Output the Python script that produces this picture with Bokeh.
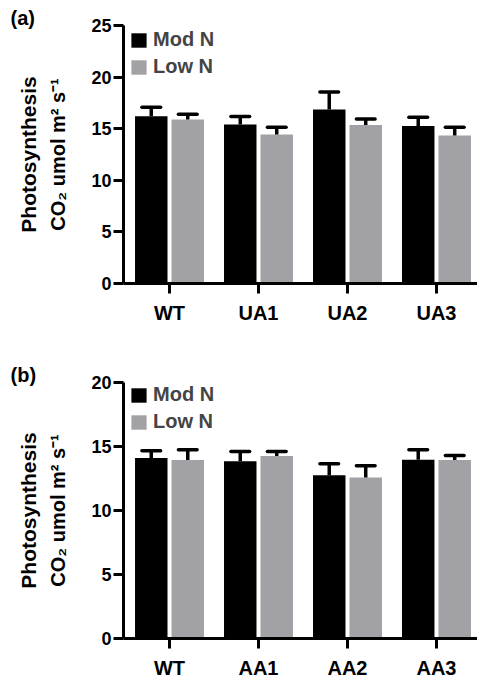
import numpy as np
from bokeh.plotting import figure
from bokeh.models import (ColumnDataSource, Range1d, FixedTicker, Legend, LegendItem,
                          LinearAxis)
from bokeh.layouts import column
from bokeh.transform import dodge
from bokeh.embed import file_html
from bokeh.resources import INLINE

# ---- data ----
categories_a = ["WT", "UA1", "UA2", "UA3"]
mod_a = [16.2, 15.4, 16.85, 15.25]
mod_a_err = [0.88, 0.78, 1.7, 0.87]
low_a = [15.9, 14.45, 15.35, 14.35]
low_a_err = [0.5, 0.7, 0.6, 0.78]

categories_b = ["WT", "AA1", "AA2", "AA3"]
mod_b = [14.1, 13.85, 12.75, 13.97]
mod_b_err = [0.57, 0.75, 0.9, 0.78]
low_b = [13.95, 14.26, 12.58, 13.95]
low_b_err = [0.8, 0.34, 0.92, 0.35]

yticks_a = [0, 5, 10, 15, 20, 25]
yticks_b = [0, 5, 10, 15, 20]
series_names = ["Mod N", "Low N"]
y_title_1 = "Photosynthesis"
y_title_2 = "CO\u2082 umol m\u00b2 s\u207b\u00b9"

FONT = "Liberation Sans"
BLACK = "#000000"
GRAY = "#a2a2a6"


def make_panel(tag, cats, mod, mod_err, low, low_err, yticks, height,
               border_top, border_bottom, title_standoff):
    n = len(cats)
    idx = list(range(n))
    src = ColumnDataSource(dict(
        x=idx,
        mod=mod, mod_hi=[m + e for m, e in zip(mod, mod_err)],
        low=low, low_hi=[m + e for m, e in zip(low, low_err)],
    ))
    frame_h = height - border_top - border_bottom
    p = figure(width=477, height=height,
               x_range=Range1d(-0.517, 3.461), y_range=Range1d(0, yticks[-1]),
               output_backend="svg", toolbar_location=None,
               min_border_left=123, min_border_right=0,
               min_border_top=border_top, min_border_bottom=border_bottom)
    p.outline_line_color = None
    p.xgrid.grid_line_color = None
    p.ygrid.grid_line_color = None
    p.background_fill_color = "white"
    p.border_fill_color = "white"

    p.title.text = tag
    p.title.align = "left"
    p.title.offset = -113
    p.title.standoff = title_standoff
    p.title.text_font = FONT
    p.title.text_font_style = "bold"
    p.title.text_font_size = "20px"
    p.title.text_color = BLACK

    off, w, cap = 0.205, 0.365, 0.105
    r_mod = p.vbar(x=dodge("x", -off), top="mod", width=w, bottom=0, source=src,
                   fill_color=BLACK, line_color=None)
    r_low = p.vbar(x=dodge("x", off), top="low", width=w, bottom=0, source=src,
                   fill_color=GRAY, line_color=None)
    for o, lo, hi in [(-off, "mod", "mod_hi"), (off, "low", "low_hi")]:
        p.segment(x0=dodge("x", o), y0=lo, x1=dodge("x", o), y1=hi, source=src,
                  line_color=BLACK, line_width=3.5)
        p.segment(x0=dodge("x", o - cap), y0=hi, x1=dodge("x", o + cap), y1=hi,
                  source=src, line_color=BLACK, line_width=3.5, line_cap="round")

    for ax in (p.xaxis, p.yaxis):
        ax.axis_line_width = 3
        ax.axis_line_color = BLACK
        ax.major_tick_line_width = 3
        ax.major_tick_line_color = BLACK
        ax.major_tick_out = 10
        ax.major_tick_in = 0
        ax.minor_tick_line_color = None
        ax.major_label_text_font = FONT
        ax.major_label_text_font_style = "bold"
        ax.major_label_text_color = BLACK

    p.xaxis.ticker = FixedTicker(ticks=idx)
    p.xaxis.major_label_overrides = {i: c for i, c in zip(idx, cats)}
    p.xaxis.major_label_text_font_size = "20px"
    p.xaxis.major_label_standoff = 8

    p.yaxis.ticker = FixedTicker(ticks=yticks)
    p.yaxis.major_label_text_font_size = "18px"
    p.yaxis.major_label_standoff = 2
    p.yaxis.axis_label = y_title_2
    p.yaxis.axis_label_text_font = FONT
    p.yaxis.axis_label_text_font_style = "bold"
    p.yaxis.axis_label_text_font_size = "20px"
    p.yaxis.axis_label_text_color = BLACK
    p.yaxis.axis_label_standoff = 19

    outer = LinearAxis(ticker=FixedTicker(ticks=[]), axis_label=y_title_1,
                       axis_line_color=None, major_tick_line_color=None,
                       minor_tick_line_color=None, major_tick_out=0, major_tick_in=0,
                       minor_tick_out=0, minor_tick_in=0, major_label_standoff=0,
                       axis_label_standoff=5, axis_label_text_font=FONT,
                       axis_label_text_font_style="bold",
                       axis_label_text_font_size="21px",
                       axis_label_text_color=BLACK)
    p.add_layout(outer, "left")

    legend = Legend(items=[LegendItem(label=series_names[0], renderers=[r_mod]),
                           LegendItem(label=series_names[1], renderers=[r_low])],
                    location=(6, frame_h - 53),
                    glyph_width=19, glyph_height=18, label_height=18,
                    label_standoff=5, spacing=4, padding=0, margin=0,
                    label_text_font=FONT, label_text_font_style="bold",
                    label_text_font_size="20px",
                    border_line_color=None, background_fill_alpha=0)
    p.add_layout(legend)
    return p


pa = make_panel("(a)", categories_a, mod_a, mod_a_err, low_a, low_a_err, yticks_a,
                338, 25, 55, -6)
pb = make_panel("(b)", categories_b, mod_b, mod_b_err, low_b, low_b_err, yticks_b,
                343, 44, 41, -6)

layout = column(pa, pb, spacing=0)
open("out.html", "w").write(file_html(layout, INLINE))
